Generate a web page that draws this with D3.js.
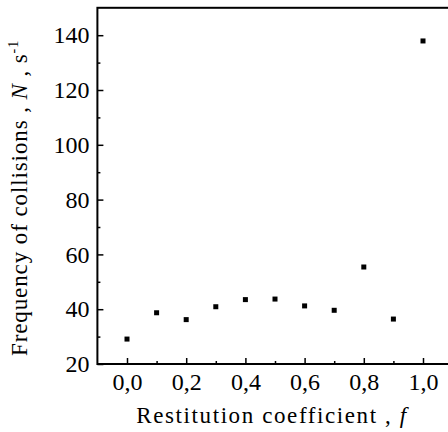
<!DOCTYPE html>
<html>
<head>
<meta charset="utf-8">
<script src="https://cdn.jsdelivr.net/npm/d3@7"></script>
<style>
  body { margin: 0; background: #fff; }
  svg { display: block; }
  text { font-family: "Liberation Serif", "Times New Roman", serif; }
</style>
</head>
<body>
<div id="chart"></div>
<script>
// restitution coefficient f and collision frequency N (s^-1)
var restitution = [0.0, 0.1, 0.2, 0.3, 0.4, 0.5, 0.6, 0.7, 0.8, 0.9, 1.0];
var frequency = [29.1, 38.7, 36.2, 40.9, 43.5, 43.7, 41.2, 39.6, 55.4, 36.4, 137.9];
var xMajorTicks = [0.0, 0.2, 0.4, 0.6, 0.8, 1.0];
var xMinorTicks = [0.1, 0.3, 0.5, 0.7, 0.9];
var yMajorTicks = [20, 40, 60, 80, 100, 120, 140];
var yMinorTicks = [30, 50, 70, 90, 110, 130];

var W = 448, H = 432;

var x = d3.scaleLinear().domain([-0.1, 1.1]).range([97.4, 452.6]);
var y = d3.scaleLinear().domain([20, 150]).range([364, 7.8]);

var svg = d3.select('#chart').append('svg')
  .attr('width', W)
  .attr('height', H);

var commaFmt = function (d) { return d3.format('.1f')(d).replace('.', ','); };

// y axis major + minor, ticks pointing inward
svg.append('g')
  .attr('class', 'axis y major')
  .attr('transform', 'translate(' + x(-0.1) + ',0)')
  .call(d3.axisLeft(y).tickValues(yMajorTicks).tickSizeInner(-6).tickSizeOuter(0).tickPadding(8))
  .call(function (g) { g.select('.domain').remove(); });

svg.append('g')
  .attr('class', 'axis y minor')
  .attr('transform', 'translate(' + x(-0.1) + ',0)')
  .call(d3.axisLeft(y).tickValues(yMinorTicks).tickSizeInner(-3).tickSizeOuter(0).tickFormat(''))
  .call(function (g) { g.select('.domain').remove(); });

// x axis major + minor
svg.append('g')
  .attr('class', 'axis x major')
  .attr('transform', 'translate(0,' + y(20) + ')')
  .call(d3.axisBottom(x).tickValues(xMajorTicks).tickSizeInner(-6).tickSizeOuter(0).tickPadding(9).tickFormat(commaFmt))
  .call(function (g) { g.select('.domain').remove(); });

svg.append('g')
  .attr('class', 'axis x minor')
  .attr('transform', 'translate(0,' + y(20) + ')')
  .call(d3.axisBottom(x).tickValues(xMinorTicks).tickSizeInner(-3).tickSizeOuter(0).tickFormat(''))
  .call(function (g) { g.select('.domain').remove(); });

svg.selectAll('.axis line').attr('stroke', '#000').attr('stroke-width', 1.5);
svg.selectAll('.axis text')
  .attr('fill', '#000')
  .attr('font-family', '"Liberation Serif", serif')
  .style('font-size', '24px');

// frame
svg.append('rect')
  .attr('x', x(-0.1))
  .attr('y', y(150))
  .attr('width', x(1.1) - x(-0.1))
  .attr('height', y(20) - y(150))
  .attr('fill', 'none')
  .attr('stroke', '#000')
  .attr('stroke-width', 2);

// points
svg.append('g').selectAll('rect.pt')
  .data(restitution)
  .enter().append('rect')
  .attr('class', 'pt')
  .attr('x', function (d) { return x(d) - 2.5; })
  .attr('y', function (d, i) { return y(frequency[i]) - 2.5; })
  .attr('width', 5)
  .attr('height', 5)
  .attr('fill', '#000');

// axis titles
var xt = svg.append('text')
  .attr('x', 272)
  .attr('y', 423)
  .attr('text-anchor', 'middle')
  .style('font-size', '23px')
  .style('letter-spacing', '1.6px');
xt.append('tspan').text('Restitution coefficient , ');
xt.append('tspan').style('font-style', 'italic').text('f');

var yt = svg.append('text')
  .attr('transform', 'translate(27,198) rotate(-90)')
  .attr('text-anchor', 'middle')
  .style('font-size', '23px')
  .style('letter-spacing', '0.9px');
yt.append('tspan').text('Frequency of collisions , ');
yt.append('tspan').style('font-style', 'italic').text('N');
yt.append('tspan').text(' , s');
yt.append('tspan').attr('dy', -9).style('font-size', '14px').text('-1');
</script>
</body>
</html>
